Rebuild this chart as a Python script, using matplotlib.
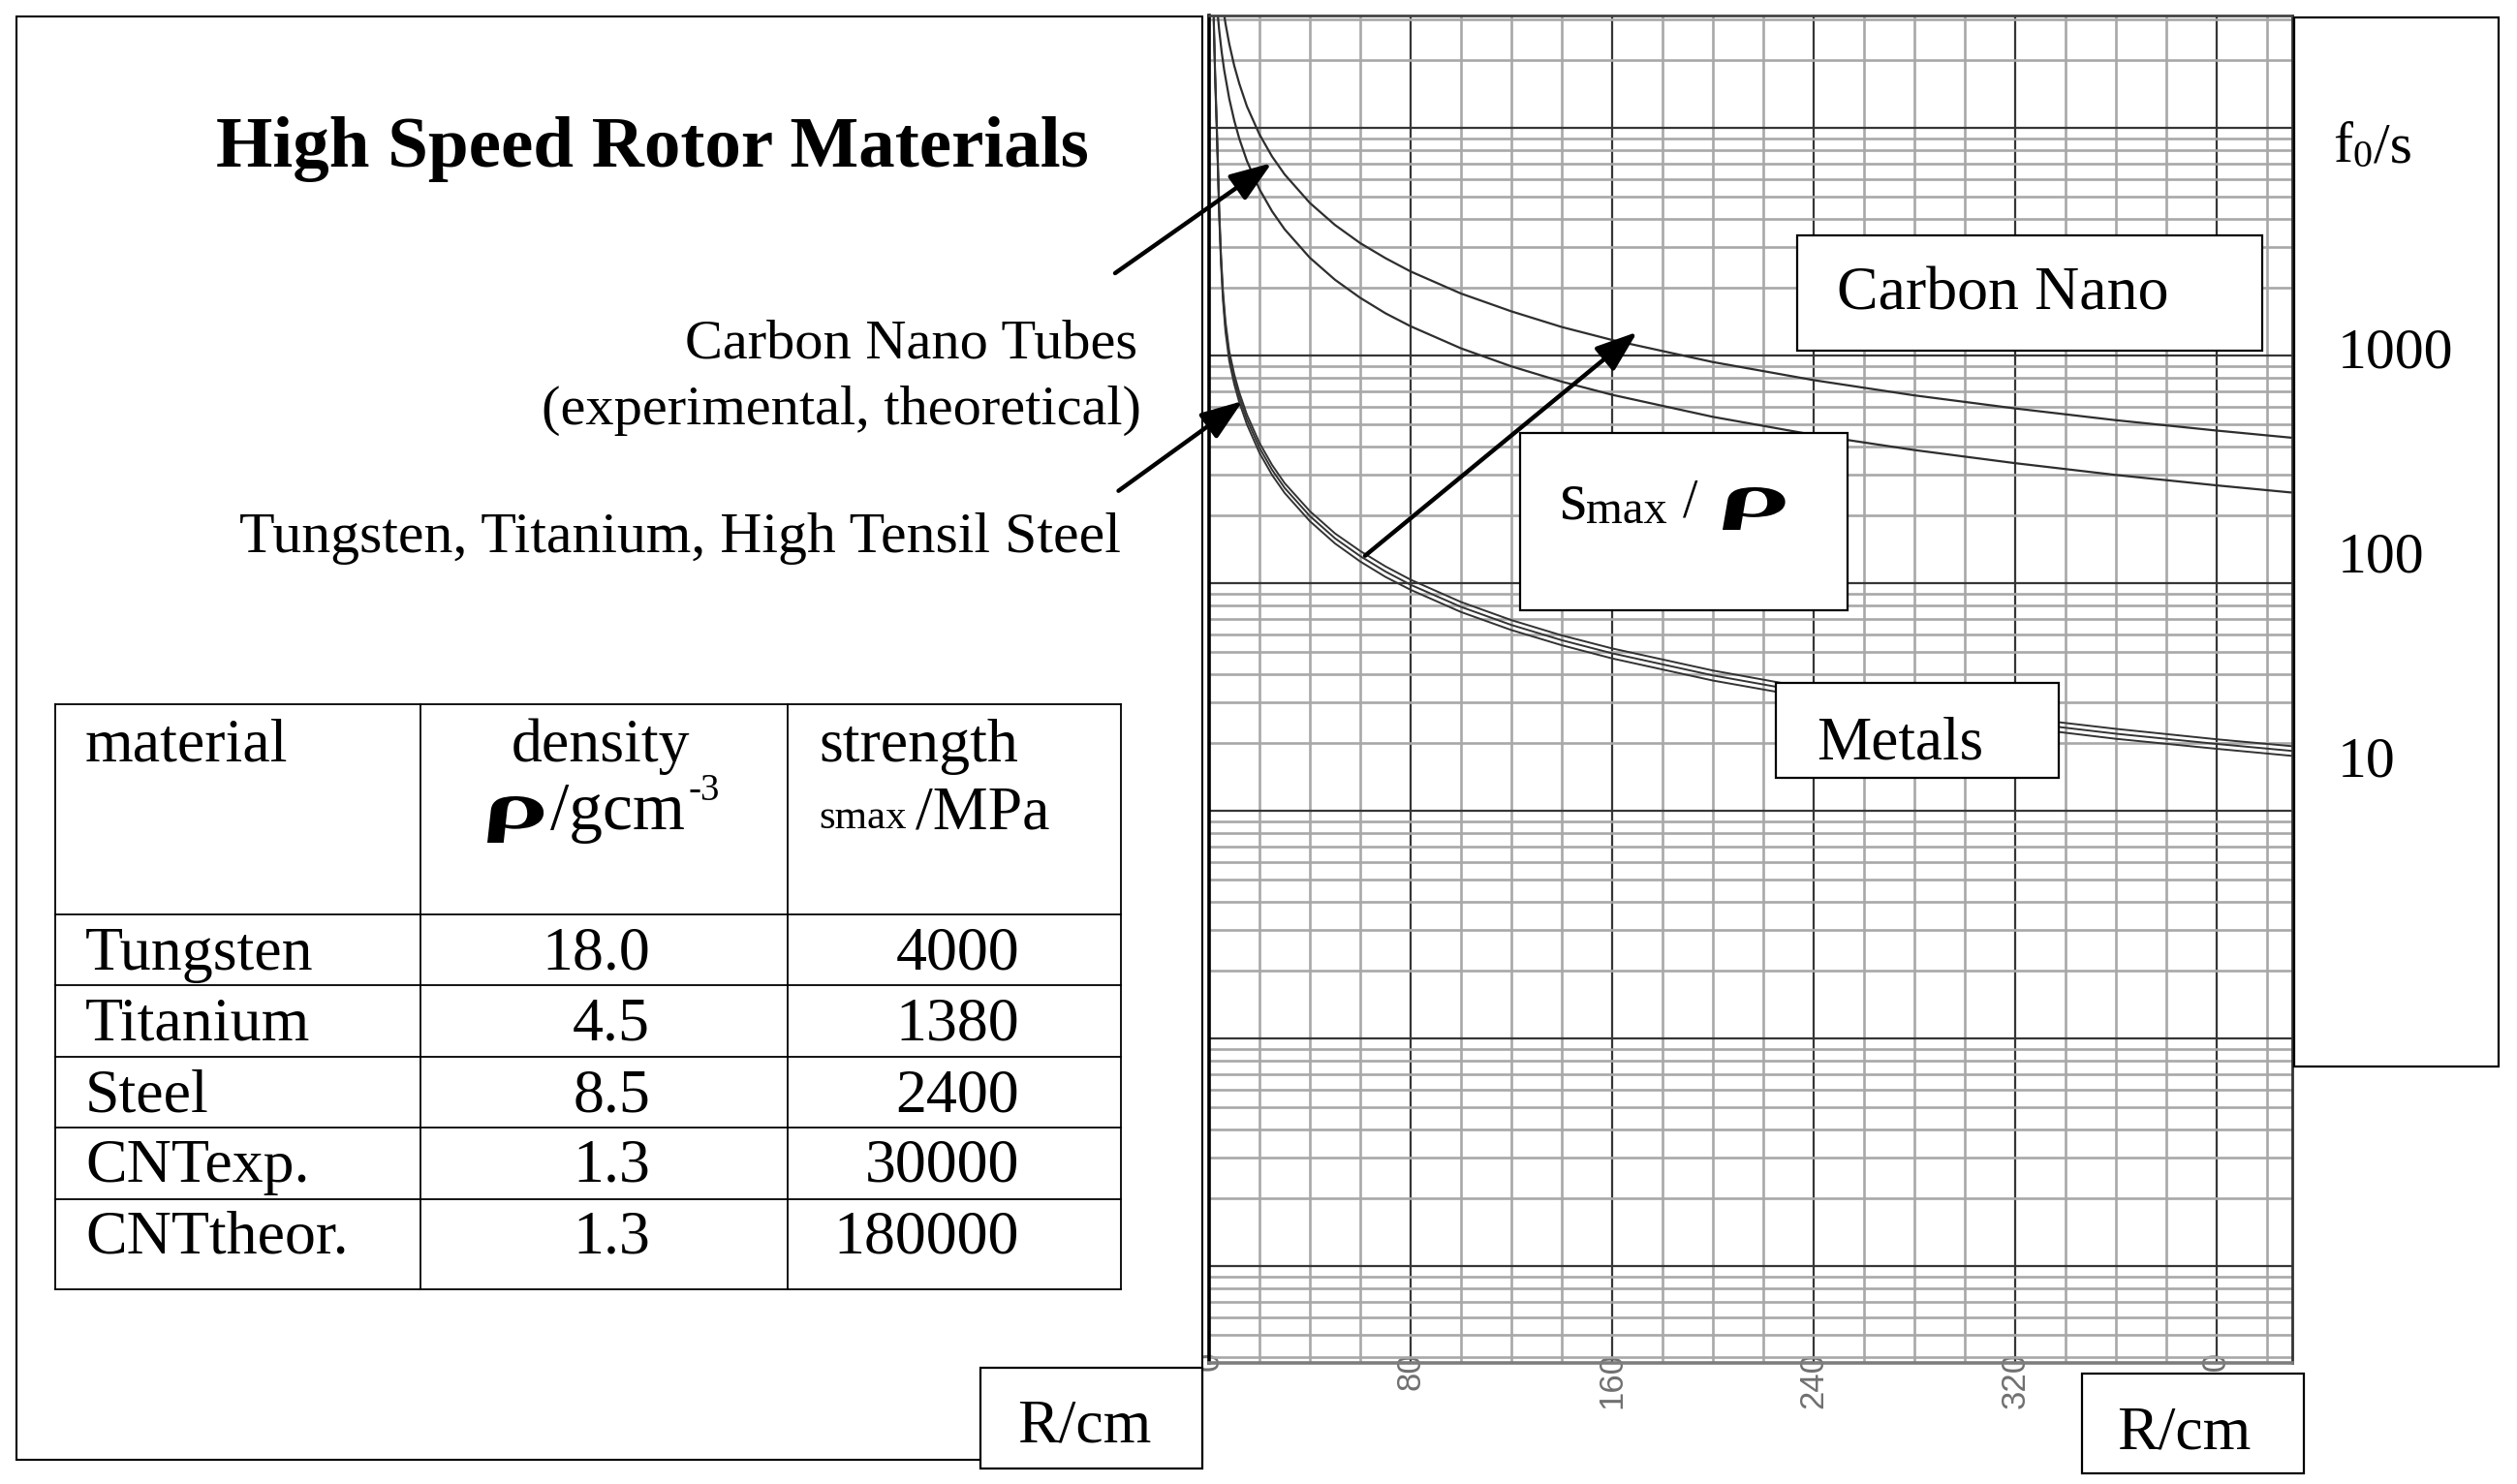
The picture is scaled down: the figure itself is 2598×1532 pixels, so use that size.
import numpy as np
import matplotlib
matplotlib.use('Agg')
import matplotlib.pyplot as plt
from matplotlib.patches import Rectangle, FancyArrowPatch, PathPatch
from matplotlib.lines import Line2D
from matplotlib.textpath import TextPath
from matplotlib.font_manager import FontProperties
from matplotlib.transforms import Affine2D
from matplotlib.ticker import MultipleLocator, LogLocator, NullFormatter

plt.rcParams['font.family'] = ['Liberation Serif', 'DejaVu Serif']

W, H = 2598, 1532

# --- curve data (R in cm, f0 in 1/s) ---
R_metals = [1.8, 2.4, 3, 3.5, 4, 4.7, 5.5, 6.5, 8, 10, 12, 15, 20, 25, 30, 40, 50,
            60, 70, 80, 100, 120, 140, 160, 200, 240, 280, 320, 360, 400, 430]
f_titanium = [33000, 17850, 11000, 7140, 4500, 2840, 1940, 1420, 1050, 830, 691, 553,
              415, 332, 276, 208, 166, 139, 119, 104, 83, 69.1, 59.2, 51.9, 41.5,
              34.5, 29.6, 25.9, 23.0, 20.7, 19.3]
f_steel = [31500, 17000, 10500, 6800, 4300, 2700, 1850, 1350, 1000, 790, 658, 527,
           395, 316, 263, 198, 158, 132, 113, 98.8, 79, 65.8, 56.4, 49.4, 39.5,
           32.9, 28.2, 24.7, 21.9, 19.75, 18.4]
f_tungsten = [29900, 16150, 10000, 6460, 4090, 2570, 1760, 1280, 950, 750, 625, 501,
              375, 300, 250, 188, 150, 125, 107, 93.9, 75, 62.5, 53.6, 46.9, 37.5,
              31.3, 26.8, 23.5, 20.8, 18.8, 17.5]

R_cnt_theor = [5.5, 6.5, 8, 10, 12, 15, 20, 25, 30, 40, 50, 60, 70, 80, 100, 120,
               140, 160, 200, 240, 280, 320, 360, 400, 430]
f_cnt_theor = [34200, 28900, 23500, 18800, 15700, 12500, 9400, 7520, 6270, 4700,
               3760, 3130, 2690, 2350, 1880, 1570, 1340, 1175, 940, 783, 671, 588,
               522, 470, 437]

R_cnt_exp = [3.2, 4, 5, 6, 8, 10, 12, 15, 20, 25, 30, 40, 50, 60, 70, 80, 100, 120,
             140, 160, 200, 240, 280, 320, 360, 400, 430]
f_cnt_exp = [33800, 27000, 21600, 18000, 13500, 10800, 9000, 7200, 5400, 4320, 3600,
             2700, 2160, 1800, 1540, 1350, 1080, 900, 771, 675, 540, 450, 386, 338,
             300, 270, 251]

# --- table ---
materials = ['Tungsten', 'Titanium', 'Steel', 'CNTexp.', 'CNTtheor.']
density = ['18.0', '4.5', '8.5', '1.3', '1.3']
strength = ['4000', '1380', '2400', '30000', '180000']

x_ticks = [0, 80, 160, 240, 320, 400]
f_labels = ['1000', '100', '10']


def fx(x):
    return x / W


def fy(y):
    return 1 - y / H


fig = plt.figure(figsize=(W / 100, H / 100), dpi=100)


def box(x0, y0, x1, y1, lw=1.6, z=2):
    fig.add_artist(Rectangle((fx(x0), fy(y1)), fx(x1) - fx(x0), fy(y0) - fy(y1),
                             transform=fig.transFigure, facecolor='white',
                             edgecolor='black', lw=lw, zorder=z))


def txt(x, y, s, size, ha='left', **kw):
    fig.text(fx(x), fy(y), s, fontsize=size, ha=ha, va='baseline', zorder=6, **kw)


def rho(x0, y0, x1, y1):
    # wide slanted rho like the Symbol-font one in the picture
    tp = TextPath((0, 0), '\u03c1', size=100,
                  prop=FontProperties(family='Liberation Serif', style='italic', weight='bold'))
    bb = tp.get_extents()
    tr = (Affine2D().translate(-bb.x0, -bb.y0)
          .scale((x1 - x0) / bb.width, (y1 - y0) / bb.height)
          .skew_deg(-12, 0)
          .translate(x0 + 6, H - y1))
    fig.add_artist(PathPatch(tp, transform=tr, facecolor='black', lw=0, zorder=6))


def hline(x0, x1, y, lw=1.3):
    fig.add_artist(Line2D([fx(x0), fx(x1)], [fy(y), fy(y)], transform=fig.transFigure,
                          color='black', lw=lw, zorder=3))


def vline(x, y0, y1, lw=1.3):
    fig.add_artist(Line2D([fx(x), fx(x)], [fy(y0), fy(y1)], transform=fig.transFigure,
                          color='black', lw=lw, zorder=3))


def arrow(x0, y0, x1, y1):
    fig.add_artist(FancyArrowPatch((fx(x0), fy(y0)), (fx(x1), fy(y1)),
                                   transform=fig.transFigure,
                                   arrowstyle='-|>,head_length=0.55,head_width=0.2',
                                   mutation_scale=48, lw=3.2, color='black',
                                   shrinkA=0, shrinkB=0, zorder=7))


# left panel
box(16.6, 16.6, 1240.5, 1507, lw=1.5, z=1)

# chart
ax = fig.add_axes([fx(1248), fy(1407), fx(2366) - fx(1248), fy(16) - fy(1407)])
ax.set_yscale('log')
ax.set_xlim(0, 430)
ax.set_ylim(0.0377, 31300)
ax.set_xticks(x_ticks)
ax.xaxis.set_minor_locator(MultipleLocator(20))
ax.yaxis.set_major_locator(LogLocator(base=10, numticks=20))
ax.yaxis.set_minor_locator(LogLocator(base=10, subs=np.arange(2, 10), numticks=20))
ax.yaxis.set_major_formatter(NullFormatter())
ax.yaxis.set_minor_formatter(NullFormatter())
ax.grid(which='major', color='#363636', lw=1.6)
ax.grid(which='minor', color='#a8a8a8', lw=1.9)
ax.set_axisbelow(True)
ax.tick_params(which='both', length=0)
ax.tick_params(axis='x', labelrotation=90, labelsize=25, labelcolor='#707070', pad=-8)
for lab in ax.get_xticklabels():
    lab.set_family('Liberation Sans')
ax.spines['left'].set_linewidth(2.6)
ax.spines['left'].set_color('black')
ax.spines['top'].set_linewidth(2.0)
ax.spines['top'].set_color('#444444')
ax.spines['right'].set_linewidth(2.0)
ax.spines['right'].set_color('#333333')
ax.spines['bottom'].set_linewidth(2.6)
ax.spines['bottom'].set_color('#7d7d7d')

ax.plot(R_cnt_theor, f_cnt_theor, color='#2e2e2e', lw=1.6)
ax.plot(R_cnt_exp, f_cnt_exp, color='#2e2e2e', lw=1.6)
ax.plot(R_metals, f_titanium, color='#333333', lw=1.4)
ax.plot(R_metals, f_steel, color='#333333', lw=1.4)
ax.plot(R_metals, f_tungsten, color='#333333', lw=1.4)

# title and annotations
txt(223, 171.7, 'High Speed Rotor Materials', 54, weight='bold')
txt(1174.5, 370, 'Carbon Nano Tubes', 42, ha='right')
txt(1178, 438, '(experimental, theoretical)', 42, ha='right')
txt(247, 570, 'Tungsten, Titanium, High Tensil Steel', 43)

# boxes inside the chart
box(1855, 243, 2335, 361.7)
txt(1895.6, 320, 'Carbon Nano', 46)

box(1569.3, 446.7, 1906.7, 630)
txt(1610, 535, 's', 52)
txt(1637, 540, 'max', 35)
txt(1737, 533, '/', 40)
rho(1772, 503, 1843, 547)

box(1833, 705, 2125, 802.6)
txt(1875.6, 783, 'Metals', 45.5)

# right label box
box(2367.7, 18.3, 2579.3, 1100.5)
txt(2408, 167, 'f', 43)
txt(2428, 172, '0', 29)
txt(2450, 167, '/s', 43)
for lab, yb in zip(f_labels, [380, 590.6, 802]):
    txt(2412.7, yb, lab, 43)

# axis title boxes
box(1011.7, 1412.3, 1240.7, 1515.7)
txt(1050, 1488.3, 'R/cm', 46)
box(2149, 1418.3, 2378.3, 1521)
txt(2185, 1495, 'R/cm', 46)

# arrows
arrow(1151, 282, 1312.7, 168.3)
arrow(1154.5, 506.7, 1282.7, 414)
arrow(1409, 573.7, 1690, 342.7)

# table
col_x = [57.4, 433.8, 813.3, 1157]
row_y = [727, 943.8, 1017, 1090.5, 1164.3, 1238, 1331]
for yy in row_y:
    hline(col_x[0], col_x[-1], yy)
for xx in col_x:
    vline(xx, row_y[0], row_y[-1])

txt(88, 786, 'material', 46)
txt(528, 786, 'density', 46)
txt(845, 786, 'strength', 46)
rho(497, 822, 562, 870)
txt(568, 856, '/gcm', 50)
txt(710, 826, '-3', 28)
txt(845.5, 855, 'smax', 31)
txt(945, 855, '/MPa', 46)

base_y = [1000.6, 1073, 1147.8, 1220, 1293]
for m, d, s, yb in zip(materials, density, strength, base_y):
    txt(88, yb, m, 46)
    txt(671, yb, d, 46, ha='right')
    txt(1052, yb, s, 46, ha='right')

fig.savefig('out.png', dpi=100)
